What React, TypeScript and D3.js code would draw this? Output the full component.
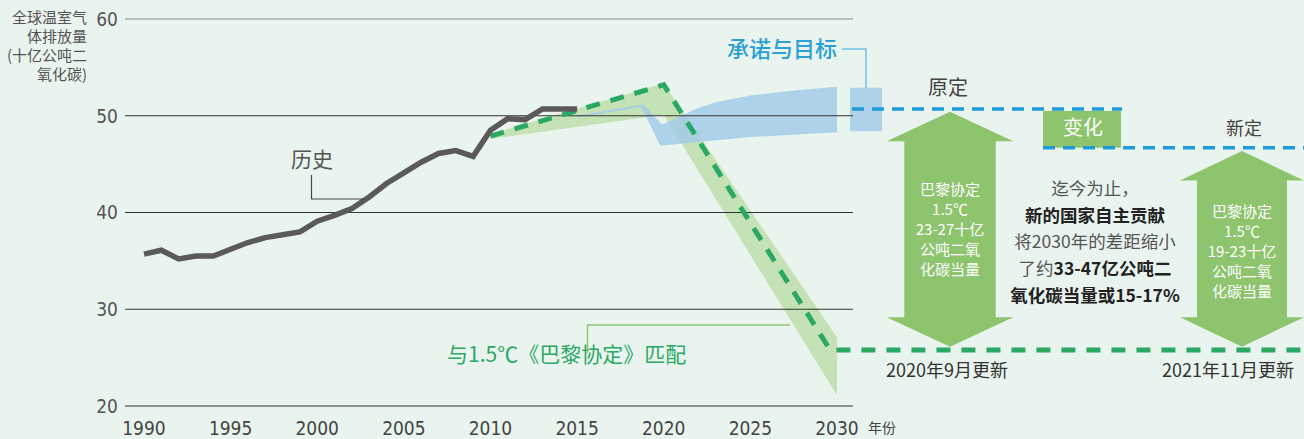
import React from "react";
import * as d3 from "d3";

const WIDTH = 1304;
const HEIGHT = 439;

const BG = "#eaf4ee";
const GRAY_LINE = "#5a5a5a";
const GREEN_DASH = "#2ba864";
const GREEN_BAND = "#c5e2b6";
const GREEN_ARROW = "#8dc46d";
const BLUE_DASH = "#1f9bd7";
const BLUE_BAND = "#a2cbe8";
const CJK = "'Noto Sans CJK SC', 'Noto Sans', sans-serif";
const NARROW = "'Liberation Sans Narrow', 'DejaVu Sans Condensed', 'Roboto', sans-serif";

// historical emissions, billion tonnes CO2e
const HIST_YEARS = [
  1990, 1991, 1992, 1993, 1994, 1995, 1996, 1997, 1998, 1999, 2000, 2001, 2002,
  2003, 2004, 2005, 2006, 2007, 2008, 2009, 2010, 2011, 2012, 2013, 2014, 2015,
];
const HIST_VALUES = [
  35.7, 36.1, 35.2, 35.5, 35.5, 36.2, 36.9, 37.4, 37.7, 38.0, 39.1, 39.7, 40.4,
  41.6, 43.0, 44.1, 45.2, 46.1, 46.4, 45.8, 48.5, 49.7, 49.6, 50.7, 50.7, 50.7,
];

// 1.5C pathway (dashed) and its range band
const PATH_YEARS = [2010, 2020, 2029.6];
const PATH_VALUES = [47.9, 53.2, 25.8];
const GREEN_BAND_YEARS = [2010, 2019.9, 2020.2, 2030, 2030, 2020, 2010];
const GREEN_BAND_VALUES = [48.1, 53.3, 52.8, 27.1, 21.1, 50.1, 47.6];

// pledges & targets band
const BLUE_BAND_YEARS = [2015, 2018.8, 2019.9, 2021, 2022, 2023, 2025, 2027.5, 2030, 2030, 2025, 2019.8, 2018.7, 2015];
const BLUE_BAND_VALUES = [50.0, 51.2, 49.1, 50.0, 50.8, 51.4, 52.1, 52.6, 53.0, 48.3, 47.8, 46.9, 50.9, 49.8];
const PLEDGE_RANGE_2030 = [48.4, 52.9];

const ORIGINAL_NDC = 50.7;
const NEW_NDC = 46.7;
const PARIS_2030 = 25.8;

const Y_TICKS = [20, 30, 40, 50, 60];
const X_TICKS = [1990, 1995, 2000, 2005, 2010, 2015, 2020, 2025, 2030];

const Y_TITLE = ["全球温室气", "体排放量", "(十亿公吨二", "氧化碳)"];
const ARROW1_TEXT = ["巴黎协定", "1.5℃", "23-27十亿", "公吨二氧", "化碳当量"];
const ARROW2_TEXT = ["巴黎协定", "1.5℃", "19-23十亿", "公吨二氧", "化碳当量"];

const xScale = d3.scaleLinear().domain([1990, 2030]).range([144, 837]);
const yScale = d3.scaleLinear().domain([20, 60]).range([406, 19]);

function arrowPath(cx: number, top: number, bottom: number, headHalf: number, shaftHalf: number, headH: number) {
  const p = d3.path();
  p.moveTo(cx, top);
  p.lineTo(cx + headHalf, top + headH);
  p.lineTo(cx + shaftHalf, top + headH);
  p.lineTo(cx + shaftHalf, bottom - headH);
  p.lineTo(cx + headHalf, bottom - headH);
  p.lineTo(cx, bottom);
  p.lineTo(cx - headHalf, bottom - headH);
  p.lineTo(cx - shaftHalf, bottom - headH);
  p.lineTo(cx - shaftHalf, top + headH);
  p.lineTo(cx - headHalf, top + headH);
  p.closePath();
  return p.toString();
}

const App = () => {
  const line = d3.line<[number, number]>().x((d) => xScale(d[0])).y((d) => yScale(d[1]));
  const poly = d3
    .line<[number, number]>()
    .x((d) => xScale(d[0]))
    .y((d) => yScale(d[1]))
    .curve(d3.curveLinearClosed);

  const histPath = line(HIST_YEARS.map((y, i) => [y, HIST_VALUES[i]]));
  const greenBand = poly(GREEN_BAND_YEARS.map((y, i) => [y, GREEN_BAND_VALUES[i]]));
  const blueBand = poly(BLUE_BAND_YEARS.map((y, i) => [y, BLUE_BAND_VALUES[i]]));

  const pathPts = PATH_YEARS.map((y, i) => [xScale(y), yScale(PATH_VALUES[i])] as [number, number]);
  pathPts.push([WIDTH, yScale(PARIS_2030)]);
  const pathD = d3.line()(pathPts);

  const gridX0 = 125;
  const gridX1 = 853;

  const a1cx = 950;
  const a1top = yScale(ORIGINAL_NDC) + 2.7;
  const a1bot = yScale(PARIS_2030) - 3.2;
  const a2cx = 1242;
  const a2top = yScale(NEW_NDC) + 3.4;
  const a1mid = (a1top + a1bot) / 2;
  const a2mid = (a2top + a1bot) / 2;

  const midX = 1095;

  return (
    <svg
      width={WIDTH}
      height={HEIGHT}
      style={{ position: "absolute", left: 0, top: 0, background: BG }}
    >
      <rect width={WIDTH} height={HEIGHT} fill={BG} />

      {/* bands */}
      <path d={greenBand!} fill={GREEN_BAND} />
      <path d={blueBand!} fill={BLUE_BAND} opacity={0.85} />
      <rect
        x={850}
        width={32}
        y={yScale(PLEDGE_RANGE_2030[1])}
        height={yScale(PLEDGE_RANGE_2030[0]) - yScale(PLEDGE_RANGE_2030[1])}
        fill={BLUE_BAND}
        opacity={0.85}
      />

      {/* grid */}
      {Y_TICKS.map((t) => (
        <g key={t}>
          <line
            x1={gridX0}
            x2={gridX1}
            y1={yScale(t)}
            y2={yScale(t)}
            stroke={t === 60 ? "#8a8a8a" : "#333"}
            strokeWidth={1.1}
          />
          <text
            x={118}
            y={yScale(t)}
            dy="0.36em"
            textAnchor="end"
            fontFamily={NARROW}
            fontSize={19}
            fill="#555"
          >
            {t}
          </text>
        </g>
      ))}
      {X_TICKS.map((t) => (
        <text
          key={t}
          x={xScale(t)}
          y={435}
          textAnchor="middle"
          fontFamily={NARROW}
          fontSize={19}
          fill="#444"
        >
          {t}
        </text>
      ))}
      <text x={868} y={433} fontFamily={CJK} fontSize={14} fill="#444">
        年份
      </text>

      {/* y title */}
      {Y_TITLE.map((s, i) => (
        <text key={i} x={87} y={23 + i * 19} textAnchor="end" fontFamily={CJK} fontSize={15} fill="#555">
          {s}
        </text>
      ))}

      {/* dashed targets */}
      <line
        x1={852}
        x2={1122}
        y1={yScale(ORIGINAL_NDC)}
        y2={yScale(ORIGINAL_NDC)}
        stroke={BLUE_DASH}
        strokeWidth={3.5}
        strokeDasharray="12 8"
      />
      <rect
        x={1043}
        width={78}
        y={yScale(ORIGINAL_NDC) + 2}
        height={yScale(NEW_NDC) - yScale(ORIGINAL_NDC) - 2}
        fill={GREEN_ARROW}
      />
      <text x={1083} y={135} textAnchor="middle" fontFamily={CJK} fontSize={20} fill="#fff">
        变化
      </text>
      <line
        x1={1043}
        x2={WIDTH}
        y1={yScale(NEW_NDC)}
        y2={yScale(NEW_NDC)}
        stroke={BLUE_DASH}
        strokeWidth={3.5}
        strokeDasharray="12 8"
      />

      {/* 1.5C pathway */}
      <path d={pathD!} fill="none" stroke={GREEN_DASH} strokeWidth={5} strokeDasharray="14 11" />

      {/* history */}
      <path d={histPath!} fill="none" stroke={GRAY_LINE} strokeWidth={5.5} />

      {/* annotations */}
      <text x={312} y={167} textAnchor="middle" fontFamily={CJK} fontSize={21} fill="#555">
        历史
      </text>
      <polyline points="311.5,175 311.5,199 365,199" fill="none" stroke="#444" strokeWidth={1.2} />

      <text x={447} y={362} fontFamily={CJK} fontSize={21} fill={GREEN_DASH}>
        与1.5℃《巴黎协定》匹配
      </text>
      <polyline points="587.5,353 587.5,325 790,325" fill="none" stroke="#8cc56f" strokeWidth={1.5} />

      <text x={837} y={57} textAnchor="end" fontFamily={CJK} fontSize={22} fontWeight={500} fill="#2a9fd8">
        承诺与目标
      </text>
      <polyline points="842,49 866,49 866,88" fill="none" stroke="#6fc0e6" strokeWidth={1.5} />

      {/* arrows */}
      <path d={arrowPath(a1cx, a1top, a1bot, 63.3, 45.7, 29.5)} fill={GREEN_ARROW} />
      <path d={arrowPath(a2cx, a2top, a1bot, 62, 45, 29.5)} fill={GREEN_ARROW} />
      {ARROW1_TEXT.map((s, i) => (
        <text key={i} x={a1cx} y={a1mid - 40 + i * 20 + 5.5} textAnchor="middle" fontFamily={CJK} fontSize={15} fill="#fff">
          {s}
        </text>
      ))}
      {ARROW2_TEXT.map((s, i) => (
        <text key={i} x={a2cx} y={a2mid - 40 + i * 20 + 8} textAnchor="middle" fontFamily={CJK} fontSize={15} fill="#fff">
          {s}
        </text>
      ))}

      <text x={948} y={95} textAnchor="middle" fontFamily={CJK} fontSize={20} fill="#444">
        原定
      </text>
      <text x={1244} y={135} textAnchor="middle" fontFamily={CJK} fontSize={18} fill="#444">
        新定
      </text>

      {/* middle note */}
      <g fontFamily={CJK} fontSize={17.5} textAnchor="middle">
        <text x={midX} y={195} fill="#555">迄今为止，</text>
        <text x={midX} y={221.5} fill="#222" fontWeight={700}>新的国家自主贡献</text>
        <text x={midX} y={248} fill="#555">将2030年的差距缩小</text>
        <text x={midX} y={275} fill="#555">
          了约<tspan fill="#222" fontWeight={700}>33-47亿公吨二</tspan>
        </text>
        <text x={midX} y={301.5} fill="#222" fontWeight={700}>氧化碳当量或15-17%</text>
      </g>

      <text x={947} y={377} textAnchor="middle" fontFamily={CJK} fontSize={18} fill="#333">
        2020年9月更新
      </text>
      <text x={1228} y={377} textAnchor="middle" fontFamily={CJK} fontSize={18} fill="#333">
        2021年11月更新
      </text>
    </svg>
  );
};

export default App;
